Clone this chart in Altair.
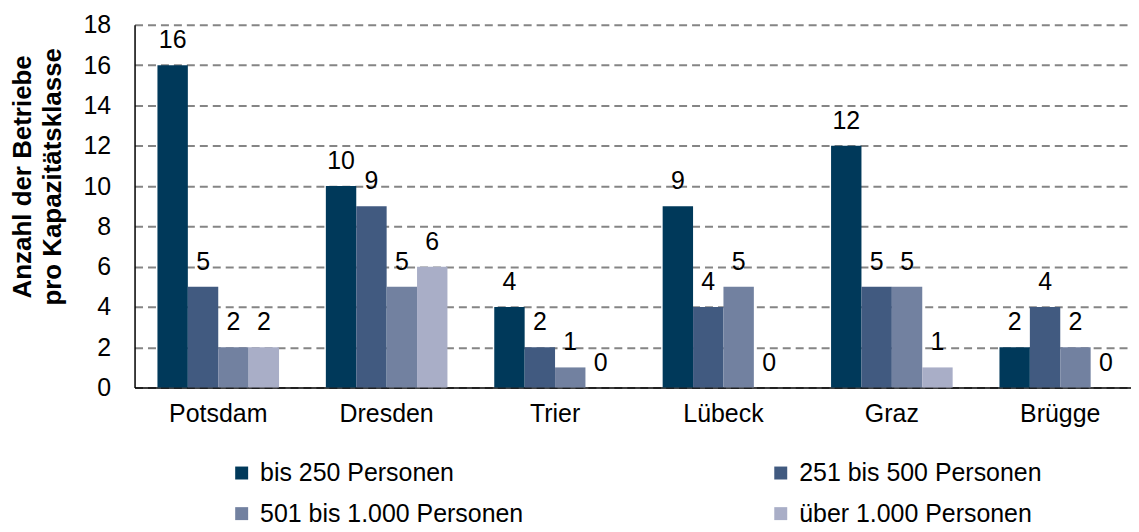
import altair as alt
import pandas as pd

cities = ["Potsdam", "Dresden", "Trier", "Lübeck", "Graz", "Brügge"]
series = ["bis 250 Personen", "251 bis 500 Personen", "501 bis 1.000 Personen", "über 1.000 Personen"]
colors = ["#00395A", "#415A80", "#7281A0", "#A9AEC7"]

v_bis250 = [16, 10, 4, 9, 12, 2]
v_251_500 = [5, 9, 2, 4, 5, 4]
v_501_1000 = [2, 5, 1, 5, 5, 2]
v_ueber1000 = [2, 6, 0, 0, 1, 0]

y_ticks = list(range(0, 19, 2))

rows = []
for s, vals in zip(series, [v_bis250, v_251_500, v_501_1000, v_ueber1000]):
    for c, v in zip(cities, vals):
        rows.append({"Stadt": c, "Klasse": s, "Wert": v})
df = pd.DataFrame(rows)

FONT = "Liberation Sans"

x = alt.X("Stadt:N", sort=cities, title=None,
          scale=alt.Scale(range=[0, 1013], paddingInner=0.278, paddingOuter=0.136),
          axis=alt.Axis(labelAngle=0, ticks=False, labelFontSize=25, labelPadding=14,
                        domainColor="#000000", domainWidth=1.5, labelColor="#000000", labelFont=FONT))
xo = alt.XOffset("Klasse:N", sort=series, scale=alt.Scale(paddingInner=0, paddingOuter=0))
y = alt.Y("Wert:Q", scale=alt.Scale(domain=[0, 18], nice=False),
          axis=alt.Axis(values=y_ticks, ticks=False, labelFontSize=25, labelPadding=24,
                        labelColor="#000000", labelFont=FONT,
                        domainColor="#000000", domainWidth=1.5,
                        grid=True, gridColor="#858585", gridDash=[8, 5], gridWidth=2,
                        title=["Anzahl der Betriebe", "pro Kapazitätsklasse"],
                        titleFontSize=26, titleFont=FONT, titleFontWeight="bold",
                        titleColor="#000000", titleLineHeight=30,
                        titleX=-112, titleY=152, titleBaseline="middle", titleAlign="center"))

color = alt.Color("Klasse:N", sort=series, scale=alt.Scale(domain=series, range=colors),
                  legend=alt.Legend(title=None, orient="none", legendX=95, legendY=437,
                                    direction="horizontal",
                                    columns=2, columnPadding=245, rowPadding=15,
                                    symbolType="square", symbolSize=169, symbolStrokeWidth=0,
                                    labelFontSize=25, labelFont=FONT, labelColor="#000000",
                                    labelOffset=6, labelLimit=400))

bars = alt.Chart(df).mark_bar().encode(x=x, xOffset=xo, y=y, color=color)
labels = alt.Chart(df).mark_text(fontSize=25, font=FONT, color="#000000", dy=-17,
                                 baseline="alphabetic").encode(
    x=x, xOffset=xo, y=y, text=alt.Text("Wert:Q"))

chart = alt.layer(bars, labels).properties(
    width=1000, height=364,
    autosize=alt.AutoSizeParams(type="none"),
    padding={"left": 127, "top": 16, "right": 0, "bottom": 140},
).configure_view(stroke=None)

chart.save("out.html", embed_options={"renderer": "svg", "actions": False})
